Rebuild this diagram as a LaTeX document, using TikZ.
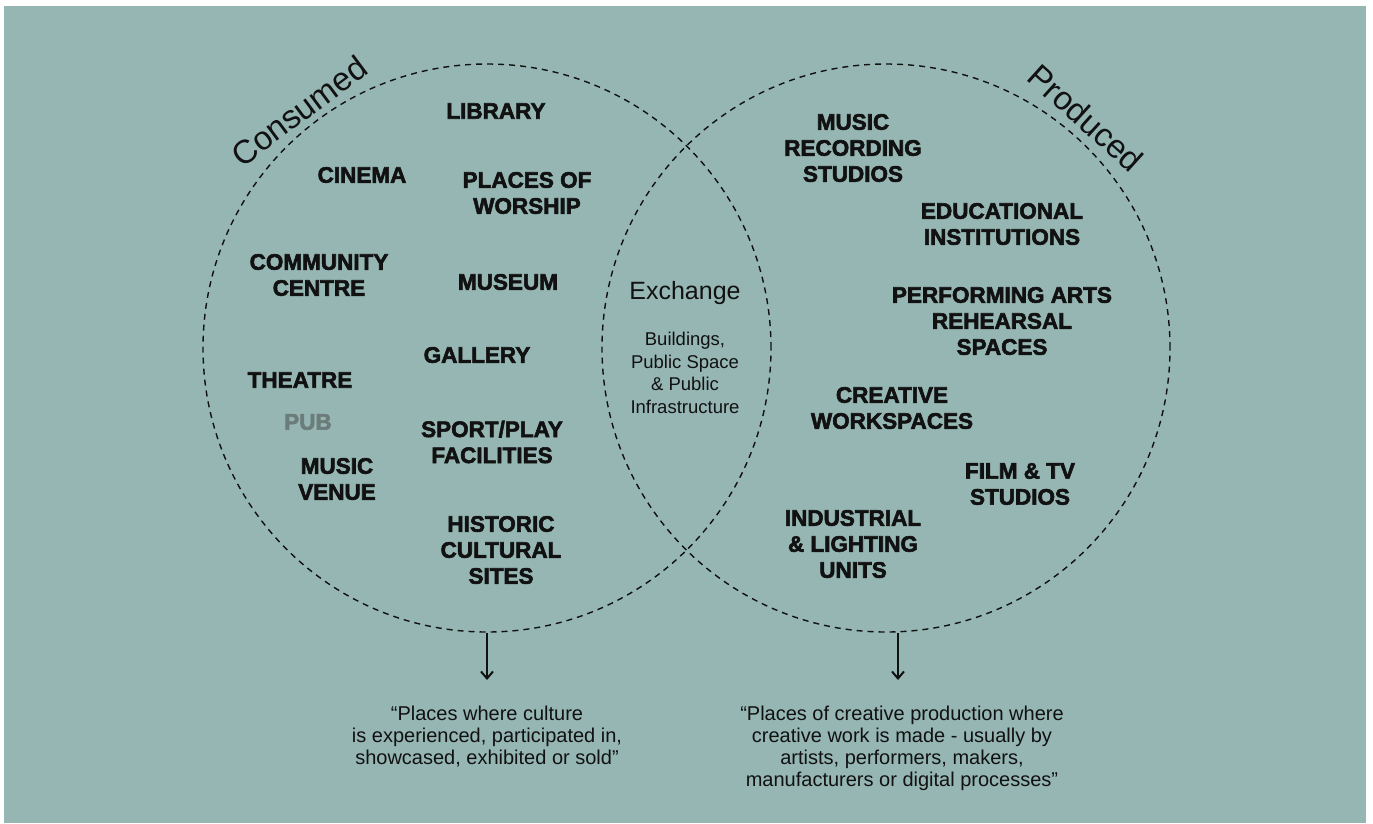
\documentclass[tikz,border=0pt]{standalone}
\usepackage{fontspec}
\setmainfont{Liberation Sans}[BoldFeatures={FakeBold=2.5}]
\usetikzlibrary{arrows.meta}
\definecolor{sage}{RGB}{149,182,179}
\definecolor{pubgrey}{RGB}{108,124,122}
\definecolor{ink}{RGB}{17,17,17}

\begin{document}
\begin{tikzpicture}[x=1pt, y=-1pt, text=ink,
    place/.style={font=\fontsize{22.5}{26}\selectfont\bfseries, align=center},
    ring/.style={circle, draw=ink, dash pattern=on 6pt off 5pt, line width=1.4pt,
                 minimum size=568pt, inner sep=0pt},
    heading/.style={font=\fontsize{33}{36}\selectfont},
    quote/.style={font=\fontsize{20}{22}\selectfont, align=center},
    down/.style={draw=ink, line width=2pt, -{Straight Barb[length=7pt, width=12pt]}}]
    % page and backdrop
    \useasboundingbox (0,0) rectangle (1373,823);
    \fill[white] (0,0) rectangle (1373,823);
    \fill[sage] (4,6) rectangle (1366,823);

    % the two circles
    \node[ring] (consumed) at (487,348) {};
    \node[ring] (produced) at (886,348) {};
    \node[heading, rotate=36.7] (consumedlbl) at (299,111) {Consumed};
    \node[heading, rotate=-42] (producedlbl) at (1086,118) {Produced};

    % consumed side
    \node[place] (library) at (496,111) {LIBRARY};
    \node[place] (cinema) at (362,175) {CINEMA};
    \node[place] (worship) at (527,193) {PLACES OF\\WORSHIP};
    \node[place] (community) at (319,275) {COMMUNITY\\CENTRE};
    \node[place] (museum) at (508,282) {MUSEUM};
    \node[place] (gallery) at (477,355) {GALLERY};
    \node[place] (theatre) at (300,380) {THEATRE};
    \node[place, text=pubgrey] (pub) at (308,422) {PUB};
    \node[place] (venue) at (337,479) {MUSIC\\VENUE};
    \node[place] (sport) at (492,442) {SPORT/PLAY\\FACILITIES};
    \node[place] (historic) at (501,550) {HISTORIC\\CULTURAL\\SITES};

    % overlap
    \node[font=\fontsize{25}{28}\selectfont] (exchange) at (685,293) {Exchange};
    \node[font=\fontsize{18.5}{22.5}\selectfont, align=center] (public) at (685,373)
        {Buildings,\\Public Space\\\& Public\\Infrastructure};

    % produced side
    \node[place] (recording) at (853,148) {MUSIC\\RECORDING\\STUDIOS};
    \node[place] (education) at (1002,224) {EDUCATIONAL\\INSTITUTIONS};
    \node[place] (rehearsal) at (1002,321) {PERFORMING ARTS\\REHEARSAL\\SPACES};
    \node[place] (workspace) at (892,408) {CREATIVE\\WORKSPACES};
    \node[place] (film) at (1020,484) {FILM \& TV\\STUDIOS};
    \node[place] (industrial) at (853,544) {INDUSTRIAL\\\& LIGHTING\\UNITS};

    % definitions below
    \node[quote] (consumednote) at (487,737)
        {“Places where culture\\is experienced, participated in,\\showcased, exhibited or sold”};
    \node[quote] (producednote) at (902,748)
        {“Places of creative production where\\creative work is made - usually by\\artists, performers, makers,\\manufacturers or digital processes”};
    \coordinate (consumedtip) at (487,680);
    \coordinate (producedtip) at (898,680);
    \coordinate (producedfoot) at (898,633);
    \draw[down] (consumed.south) -- (consumedtip);
    \draw[down] (producedfoot) -- (producedtip);
\end{tikzpicture}
\end{document}
